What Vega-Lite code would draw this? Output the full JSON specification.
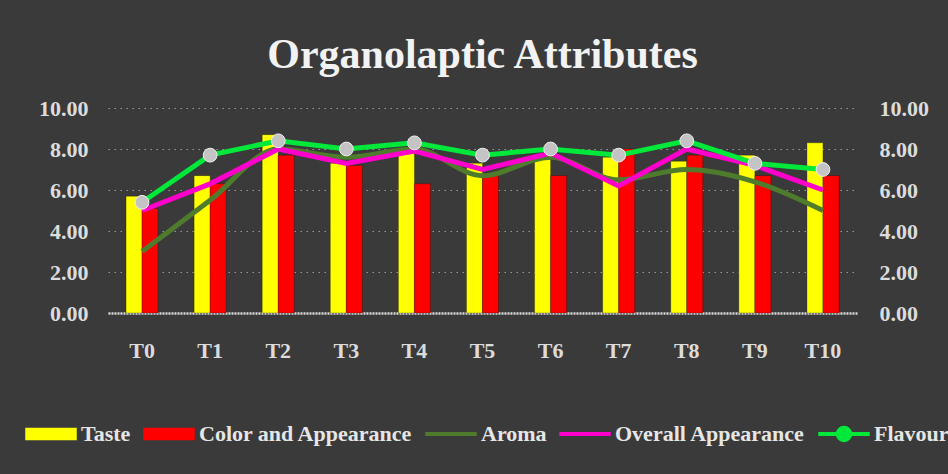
{
  "$schema": "https://vega.github.io/schema/vega-lite/v6.json",
  "width": 749,
  "height": 205,
  "autosize": {"type": "none"},
  "padding": {"left": 108, "top": 108, "right": 91, "bottom": 161},
  "background": "#3a3a3a",
  "title": {
    "text": "Organolaptic Attributes",
    "font": "Liberation Serif",
    "fontSize": 42,
    "fontWeight": "bold",
    "color": "#f2f2f2",
    "anchor": "middle",
    "offset": 20
  },
  "config": {
    "view": {"stroke": null},
    "axis": {
      "labelFont": "Liberation Serif",
      "labelFontWeight": "bold",
      "labelFontSize": 22,
      "labelColor": "#dcdcdc",
      "ticks": false,
      "title": null
    },
    "legend": {
      "labelFont": "Liberation Serif",
      "labelFontWeight": "bold",
      "labelFontSize": 22,
      "labelColor": "#e6e6e6",
      "labelLimit": 400
    }
  },
  "data": {
    "values": [
      {"t": "T0", "series": "Taste", "value": 5.7},
      {"t": "T1", "series": "Taste", "value": 6.7},
      {"t": "T2", "series": "Taste", "value": 8.7},
      {"t": "T3", "series": "Taste", "value": 7.3},
      {"t": "T4", "series": "Taste", "value": 7.8},
      {"t": "T5", "series": "Taste", "value": 7.3},
      {"t": "T6", "series": "Taste", "value": 7.5},
      {"t": "T7", "series": "Taste", "value": 7.6},
      {"t": "T8", "series": "Taste", "value": 7.4},
      {"t": "T9", "series": "Taste", "value": 7.7},
      {"t": "T10", "series": "Taste", "value": 8.3},
      {"t": "T0", "series": "Color and Appearance", "value": 5.1},
      {"t": "T1", "series": "Color and Appearance", "value": 6.3},
      {"t": "T2", "series": "Color and Appearance", "value": 7.7},
      {"t": "T3", "series": "Color and Appearance", "value": 7.2},
      {"t": "T4", "series": "Color and Appearance", "value": 6.3},
      {"t": "T5", "series": "Color and Appearance", "value": 6.7},
      {"t": "T6", "series": "Color and Appearance", "value": 6.7},
      {"t": "T7", "series": "Color and Appearance", "value": 8.0},
      {"t": "T8", "series": "Color and Appearance", "value": 7.7},
      {"t": "T9", "series": "Color and Appearance", "value": 6.7},
      {"t": "T10", "series": "Color and Appearance", "value": 6.7},
      {"t": "T0", "series": "Aroma", "value": 3.0},
      {"t": "T1", "series": "Aroma", "value": 5.5},
      {"t": "T2", "series": "Aroma", "value": 8.0},
      {"t": "T3", "series": "Aroma", "value": 7.6},
      {"t": "T4", "series": "Aroma", "value": 8.0},
      {"t": "T5", "series": "Aroma", "value": 6.7},
      {"t": "T6", "series": "Aroma", "value": 7.6},
      {"t": "T7", "series": "Aroma", "value": 6.5},
      {"t": "T8", "series": "Aroma", "value": 7.0},
      {"t": "T9", "series": "Aroma", "value": 6.4},
      {"t": "T10", "series": "Aroma", "value": 5.0},
      {"t": "T0", "series": "Overall Appearance", "value": 5.0},
      {"t": "T1", "series": "Overall Appearance", "value": 6.3},
      {"t": "T2", "series": "Overall Appearance", "value": 8.0},
      {"t": "T3", "series": "Overall Appearance", "value": 7.3},
      {"t": "T4", "series": "Overall Appearance", "value": 7.9},
      {"t": "T5", "series": "Overall Appearance", "value": 7.0},
      {"t": "T6", "series": "Overall Appearance", "value": 7.8},
      {"t": "T7", "series": "Overall Appearance", "value": 6.2},
      {"t": "T8", "series": "Overall Appearance", "value": 8.0},
      {"t": "T9", "series": "Overall Appearance", "value": 7.2},
      {"t": "T10", "series": "Overall Appearance", "value": 6.0},
      {"t": "T0", "series": "Flavour", "value": 5.4},
      {"t": "T1", "series": "Flavour", "value": 7.7},
      {"t": "T2", "series": "Flavour", "value": 8.4},
      {"t": "T3", "series": "Flavour", "value": 8.0},
      {"t": "T4", "series": "Flavour", "value": 8.3},
      {"t": "T5", "series": "Flavour", "value": 7.7},
      {"t": "T6", "series": "Flavour", "value": 8.0},
      {"t": "T7", "series": "Flavour", "value": 7.7},
      {"t": "T8", "series": "Flavour", "value": 8.4},
      {"t": "T9", "series": "Flavour", "value": 7.3},
      {"t": "T10", "series": "Flavour", "value": 7.0}
    ]
  },
  "encoding": {
    "x": {
      "field": "t",
      "type": "nominal",
      "sort": ["T0","T1","T2","T3","T4","T5","T6","T7","T8","T9","T10"],
      "scale": {"paddingInner": 0.53, "paddingOuter": 0.265},
      "axis": {
        "labelAngle": 0,
        "labelPadding": 27,
        "domain": true,
        "domainColor": "#d8d8d8",
        "domainWidth": 2.5,
        "domainDash": [2, 1]
      }
    },
    "color": {
      "field": "series",
      "type": "nominal",
      "scale": {
        "domain": ["Taste", "Color and Appearance", "Aroma", "Overall Appearance", "Flavour"],
        "range": ["#ffff00", "#ff0000", "#4e7b2c", "#ff00cc", "#00e83a"]
      },
      "legend": {
        "title": null,
        "orient": "none",
        "direction": "horizontal",
        "legendX": -82,
        "legendY": 315,
        "symbolSize": 2500,
        "columnPadding": 10,
        "encode": {
          "symbols": {
            "update": {
              "size": {"value": 2500},
              "x": {"value": 25},
              "y": {"value": 11},
              "shape": {"signal": "datum.index < 2 ? 'M0,-0.6M0,0.6M-1,-0.22H1V0.22H-1Z' : datum.index == 4 ? 'M0,-0.6M0,0.6M-1,-0.05H-0.3V0.05H-1ZM0.3,-0.05H1V0.05H0.3ZM0.3,0A0.3,0.3,0,1,1,-0.3,0A0.3,0.3,0,1,1,0.3,0Z' : 'M0,-0.6M0,0.6M-1,-0.05H1V0.05H-1Z'"},
              "fill": {"signal": "datum.index == 0 ? '#ffff00' : datum.index == 1 ? '#ff1a1a' : datum.index == 2 ? '#4e7b2c' : datum.index == 3 ? '#ff00cc' : '#c8c8c8'"},
              "stroke": {"signal": "datum.index == 0 ? '#a8a800' : datum.index == 1 ? '#a00000' : datum.index == 2 ? '#4e7b2c' : datum.index == 3 ? '#ff00cc' : '#00e83a'"},
              "strokeWidth": {"value": 1.5},
              "opacity": {"value": 1}
            }
          },
          "labels": {
            "update": {
              "x": {"value": 55},
              "y": {"value": 11}
            }
          }
        }
      }
    }
  },
  "layer": [
    {
      "transform": [{"filter": "datum.series == 'Taste' || datum.series == 'Color and Appearance'"}],
      "mark": {"type": "bar", "stroke": "#000000", "strokeOpacity": 0.25, "strokeWidth": 1},
      "encoding": {
        "xOffset": {"field": "series", "type": "nominal", "sort": ["Taste", "Color and Appearance"], "scale": {"paddingInner": 0}},
        "y": {
          "field": "value",
          "type": "quantitative",
          "scale": {"domain": [0, 10]},
          "axis": {
            "orient": "left",
            "values": [0, 2, 4, 6, 8, 10],
            "format": ".2f",
            "labelPadding": 20,
            "domain": false,
            "grid": true,
            "gridColor": "#9a9a9a",
            "gridDash": [1.5, 4.5],
            "gridWidth": 1.2
          }
        }
      }
    },
    {
      "transform": [{"filter": "datum.series == 'Aroma'"}],
      "mark": {"type": "line", "strokeWidth": 5, "interpolate": "monotone"},
      "encoding": {
        "y": {
          "field": "value",
          "type": "quantitative",
          "scale": {"domain": [0, 10]},
          "axis": {
            "orient": "right",
            "values": [0, 2, 4, 6, 8, 10],
            "format": ".2f",
            "labelPadding": 22,
            "domain": false,
            "grid": false
          }
        }
      }
    },
    {
      "transform": [{"filter": "datum.series == 'Overall Appearance' || datum.series == 'Flavour'"}],
      "mark": {"type": "line", "strokeWidth": 5},
      "encoding": {
        "y": {"field": "value", "type": "quantitative", "axis": null}
      }
    },
    {
      "transform": [{"filter": "datum.series == 'Flavour'"}],
      "mark": {"type": "point", "shape": "circle", "filled": true, "fill": "#c4c4c4", "stroke": "#f0f0f0", "strokeWidth": 1, "size": 190, "opacity": 1},
      "encoding": {
        "y": {"field": "value", "type": "quantitative", "axis": null},
        "color": {"value": "#c4c4c4"}
      }
    }
  ],
  "resolve": {"axis": {"y": "independent"}}
}
